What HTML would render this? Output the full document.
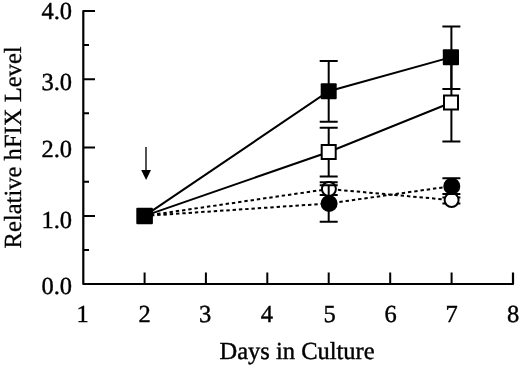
<!DOCTYPE html>
<html><head><meta charset="utf-8">
<style>
html,body{margin:0;padding:0;background:#fff;}
body{width:520px;height:366px;overflow:hidden;}
svg{display:block;will-change:transform;}
text{font-family:"Liberation Serif",serif;font-size:24.5px;fill:#000;text-rendering:geometricPrecision;}
.lab text{stroke:#000;stroke-width:0.4px;}
text.lab{stroke:#000;stroke-width:0.3px;}
</style></head>
<body>
<svg width="520" height="366" viewBox="0 0 520 366">
<rect width="520" height="366" fill="#fff"/>
<!-- axes -->
<g stroke="#000" stroke-width="2" fill="none" stroke-linecap="butt">
<path d="M95 11 H83.3 V284 H513 V272.5" stroke-linejoin="round" stroke-width="2.2"/>
<path d="M83 45 H89 M83 79.2 H95 M83 113.3 H89 M83 147.5 H95 M83 181.7 H89 M83 215.9 H95 M83 250 H89"/>
<path d="M144.6 284 V272.5 M205.9 284 V272.5 M267.3 284 V272.5 M328.7 284 V272.5 M390.2 284 V272.5 M451.6 284 V272.5"/>
</g>
<!-- y labels -->
<g class="lab">
<text transform="translate(72.1 19.4) scale(1 1.0)" text-anchor="end">4.0</text>
<text transform="translate(72.1 90.3) scale(1 1.0)" text-anchor="end">3.0</text>
<text transform="translate(72.1 156.6) scale(1 1.0)" text-anchor="end">2.0</text>
<text transform="translate(72.1 227.6) scale(1 1.0)" text-anchor="end">1.0</text>
<text transform="translate(72.1 294.3) scale(1 1.0)" text-anchor="end">0.0</text>
</g>
<!-- x labels -->
<g class="lab">
<text transform="translate(82.7 322.4) scale(1 1.0)" text-anchor="middle">1</text>
<text transform="translate(144.5 322.4) scale(1 1.0)" text-anchor="middle">2</text>
<text transform="translate(205.1 322.4) scale(1 1.0)" text-anchor="middle">3</text>
<text transform="translate(266.9 322.4) scale(1 1.0)" text-anchor="middle">4</text>
<text transform="translate(329.5 322.4) scale(1 1.0)" text-anchor="middle">5</text>
<text transform="translate(390.5 322.4) scale(1 1.0)" text-anchor="middle">6</text>
<text transform="translate(451.5 322.4) scale(1 1.0)" text-anchor="middle">7</text>
<text transform="translate(513 322.4) scale(1 1.0)" text-anchor="middle">8</text>
<text transform="translate(219.5 358.5) scale(1 1.0)" text-anchor="start">Days in Culture</text>
</g>
<text class="lab" transform="translate(20.8 248.5) rotate(-90)" style="font-size:24.6px">Relative hFIX Level</text>
<!-- arrow -->
<path d="M146 147 V171" stroke="#1a1a1a" stroke-width="1.5"/>
<path d="M141.2 170 L151 170 L146.1 180 Z" fill="#000"/>
<!-- lines -->
<g stroke="#000" stroke-width="2" fill="none">
<polyline points="144.6,215.9 328.7,91.2 451.4,57.1"/>
<polyline points="144.6,215.9 328.7,152 451.4,102.5"/>
<polyline points="144.6,215.9 328.7,189 451.4,200.1" stroke-dasharray="3.4 2.9"/>
<polyline points="144.6,215.9 328.7,203.5 451.4,186.2" stroke-dasharray="3.4 2.9"/>
</g>
<!-- open circle series -->
<g stroke="#000" stroke-width="2">
<path d="M328.7 182.3 V195 M319.7 182.3 H337.7 M319.7 195 H337.7"/>
<path d="M451.4 197.4 V203.4 M442.4 197.4 H460.4 M442.4 203.4 H460.4"/>
<circle cx="328.9" cy="189" r="7" fill="#fff"/>
<circle cx="451.6" cy="200.1" r="7" fill="#fff"/>
</g>
<!-- filled circle series -->
<g stroke="#000" stroke-width="2">
<path d="M328.7 185.3 V221.8 M319.7 185.3 H337.7 M319.7 221.8 H337.7"/>
<path d="M451.4 178.3 V194 M442.4 178.3 H460.4 M442.4 194 H460.4"/>
<circle cx="329.1" cy="203.5" r="7.5" fill="#000"/>
<circle cx="451.8" cy="186.2" r="7.5" fill="#000"/>
</g>
<!-- open square series -->
<g stroke="#000" stroke-width="2">
<path d="M328.7 127.8 V176.4 M319.7 127.8 H337.7 M319.7 176.4 H337.7"/>
<path d="M451.4 63.5 V141.5 M442.4 141.5 H460.4"/>
<rect x="321.7" y="145" width="14" height="14" fill="#fff"/>
<rect x="444" y="95.5" width="14" height="14" fill="#fff"/>
</g>
<!-- filled square series -->
<g stroke="#000" stroke-width="2">
<path d="M328.7 61 V121.8 M319.7 61 H337.7 M319.7 121.8 H337.7"/>
<path d="M451.4 26.4 V89 M442.4 26.4 H460.4 M442.4 89 H460.4"/>
</g>
<rect x="136.3" y="207.8" width="16.6" height="16.4" fill="#000" rx="1"/>
<rect x="320.7" y="83.3" width="16" height="16" fill="#000" rx="1"/>
<rect x="442.8" y="49.2" width="16.2" height="16" fill="#000" rx="1"/>
</svg>
</body></html>
